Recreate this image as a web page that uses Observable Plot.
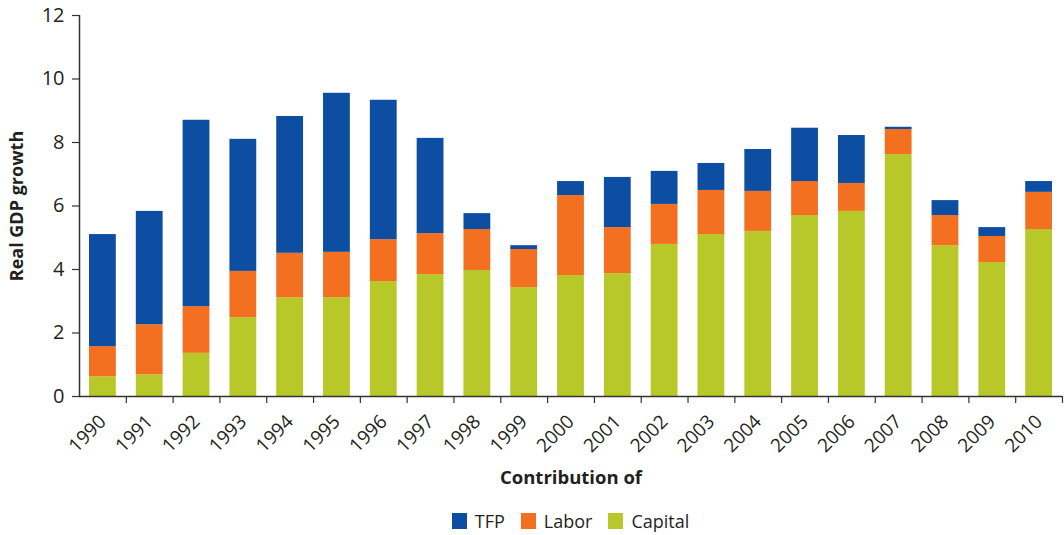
<!DOCTYPE html>
<html>
<head>
<meta charset="utf-8">
<script src="https://cdn.jsdelivr.net/npm/d3@7"></script>
<script src="https://cdn.jsdelivr.net/npm/@observablehq/plot@0.6"></script>
<style>
  html, body { margin: 0; padding: 0; background: #fff; }
  #chart { width: 1064px; }
  .legend { display: flex; justify-content: center; align-items: center; height: 42px;
    padding-left: 79px; padding-right: 2px; box-sizing: border-box; width: 1064px;
    font-family: "Open Sans", sans-serif; font-size: 18px; color: #231f20; }
  .legend .item { display: flex; align-items: center; margin: 0 8px; }
  .legend .sw { width: 15px; height: 16px; margin-right: 8px; }
</style>
</head>
<body>
<div id="chart"></div>
<script>
const years = [1990, 1991, 1992, 1993, 1994, 1995, 1996, 1997, 1998, 1999, 2000,
               2001, 2002, 2003, 2004, 2005, 2006, 2007, 2008, 2009, 2010];
const capital = [0.62, 0.68, 1.36, 2.48, 3.11, 3.11, 3.62, 3.84, 3.97, 3.43, 3.81,
                 3.87, 4.79, 5.10, 5.20, 5.70, 5.83, 7.62, 4.75, 4.22, 5.26];
const labor   = [0.95, 1.58, 1.47, 1.46, 1.40, 1.43, 1.32, 1.29, 1.29, 1.20, 2.52,
                 1.45, 1.26, 1.39, 1.26, 1.07, 0.88, 0.79, 0.95, 0.82, 1.17];
const tfp     = [3.53, 3.57, 5.87, 4.16, 4.31, 5.01, 4.39, 3.00, 0.50, 0.12, 0.44,
                 1.58, 1.04, 0.85, 1.32, 1.68, 1.51, 0.07, 0.47, 0.28, 0.34];
const seriesNames = ["TFP", "Labor", "Capital"];
const seriesColors = ["#0d4ea3", "#f37021", "#b8c828"];
const yTicks = [0, 2, 4, 6, 8, 10, 12];

const data = [];
years.forEach((yr, i) => {
  data.push({year: yr, series: "Capital", value: capital[i]});
  data.push({year: yr, series: "Labor", value: labor[i]});
  data.push({year: yr, series: "TFP", value: tfp[i]});
});

const ink = "#231f20";
const chart = Plot.plot({
  width: 1064,
  height: 500,
  marginLeft: 79,
  marginRight: 2,
  marginTop: 15,
  marginBottom: 104,
  style: {fontFamily: "'Open Sans', sans-serif", fontSize: "18px", color: ink, background: "#fff"},
  x: {domain: [years[0], years[years.length - 1] + 1]},
  y: {domain: [0, 12]},
  color: {domain: seriesNames, range: seriesColors},
  marks: [
    Plot.rectY(data, Plot.stackY({
      x: "year", interval: 1, y: "value", fill: "series",
      order: ["Capital", "Labor", "TFP"],
      insetLeft: 10, insetRight: 10
    })),
    Plot.axisY({ticks: yTicks, tickSize: 7, tickPadding: 8, label: null, stroke: "#333", strokeWidth: 1.2, fontSize: 20}),
    Plot.axisX({ticks: years.map(y => y + 1), tickSize: 7, tickFormat: () => "", label: null, stroke: "#333", strokeWidth: 1.2}),
    Plot.axisX({ticks: years.map(y => y + 0.5), tickSize: 0, tickPadding: 22, tickRotate: -45,
                tickFormat: d => String(Math.floor(d)), label: null, fontSize: 19}),
    Plot.ruleY([0], {stroke: "#333", strokeWidth: 1.5}),
    Plot.ruleX([years[0]], {y1: 0, y2: 12, stroke: "#333", strokeWidth: 1.5}),
    Plot.text(["Real GDP growth"], {frameAnchor: "left", textAnchor: "middle", dx: -62, rotate: -90, fontWeight: "bold", fontSize: 18, fill: ink}),
    Plot.text(["Contribution of"], {frameAnchor: "bottom", dy: 87, fontWeight: "bold", fontSize: 18.5, fill: ink})
  ]
});
document.getElementById("chart").appendChild(chart);

const legend = document.createElement("div");
legend.className = "legend";
seriesNames.forEach((name, i) => {
  const item = document.createElement("div");
  item.className = "item";
  const sw = document.createElement("span");
  sw.className = "sw";
  sw.style.background = seriesColors[i];
  const label = document.createElement("span");
  label.textContent = name;
  item.appendChild(sw);
  item.appendChild(label);
  legend.appendChild(item);
});
document.body.appendChild(legend);
</script>
</body>
</html>
